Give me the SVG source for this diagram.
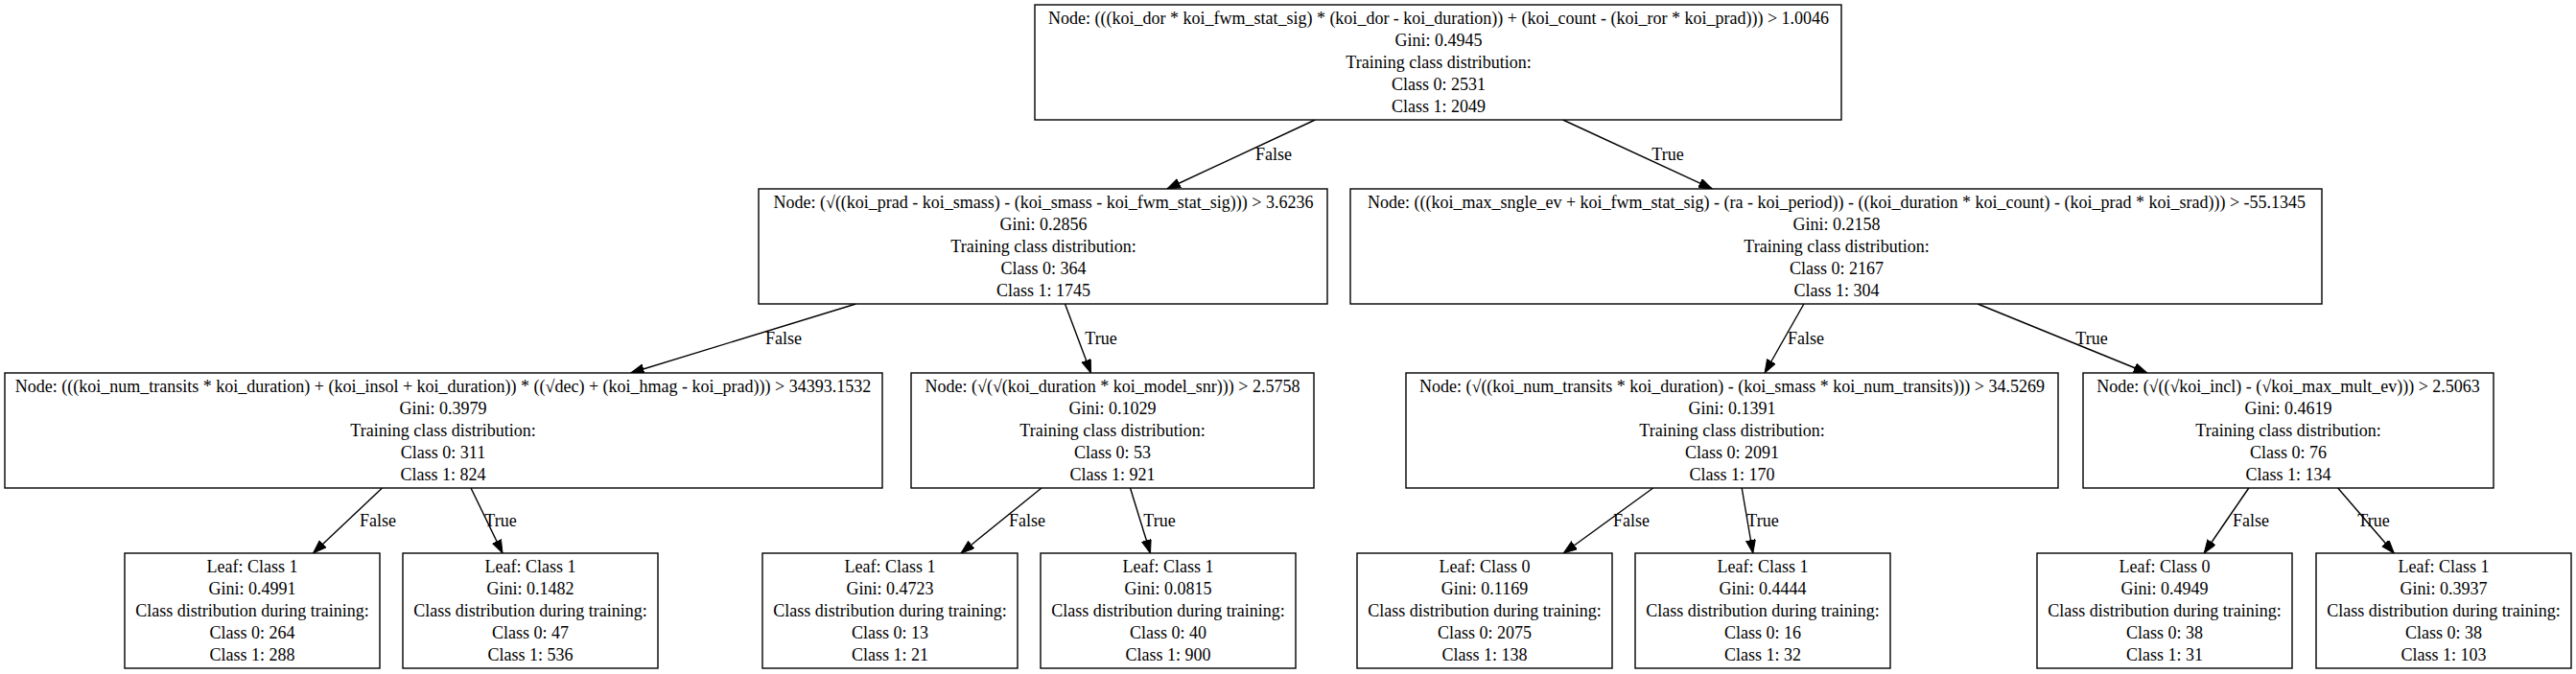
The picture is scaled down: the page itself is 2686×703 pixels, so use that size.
<svg xmlns="http://www.w3.org/2000/svg" width="2686" height="703" viewBox="0 0 2686 703">
<style>
.bg{fill:#ffffff}
.node rect{fill:#ffffff;stroke:#000000;stroke-width:1.4}
text{font-family:"Liberation Serif","Times New Roman",serif;font-size:18px;fill:#000000;text-anchor:middle}
.edges line{stroke:#000000;stroke-width:1.4;marker-end:url(#arr)}
</style>
<defs>
<marker id="arr" markerUnits="userSpaceOnUse" markerWidth="15" markerHeight="11" refX="14" refY="5" orient="auto">
<path d="M0,0 L14,5 L0,10 Z" fill="#000000" stroke="#000000" stroke-width="1"/>
</marker>
</defs>
<rect class="bg" x="0" y="0" width="2686" height="703"/>
<g id="edges" class="edges">
<line x1="1371.3" y1="125" x2="1216.8" y2="197"/>
<line x1="1629.7" y1="125" x2="1785.3" y2="197"/>
<line x1="892.4" y1="317" x2="657.6" y2="389"/>
<line x1="1110.5" y1="317" x2="1137.5" y2="389"/>
<line x1="1880.9" y1="317" x2="1840.1" y2="389"/>
<line x1="2062.2" y1="317" x2="2238.8" y2="389"/>
<line x1="398.5" y1="509" x2="326.5" y2="577"/>
<line x1="491.0" y1="509" x2="524.0" y2="577"/>
<line x1="1086.0" y1="509" x2="1002.0" y2="577"/>
<line x1="1178.5" y1="509" x2="1199.5" y2="577"/>
<line x1="1723.7" y1="509" x2="1630.3" y2="577"/>
<line x1="1816.2" y1="509" x2="1827.8" y2="577"/>
<line x1="2344.8" y1="509" x2="2298.2" y2="577"/>
<line x1="2437.7" y1="509" x2="2496.3" y2="577"/>
<text x="1328" y="167">False</text>
<text x="1739" y="167">True</text>
<text x="817" y="359">False</text>
<text x="1148" y="359">True</text>
<text x="1883" y="359">False</text>
<text x="2181" y="359">True</text>
<text x="394" y="549">False</text>
<text x="522" y="549">True</text>
<text x="1071" y="549">False</text>
<text x="1209" y="549">True</text>
<text x="1701" y="549">False</text>
<text x="1838" y="549">True</text>
<text x="2347" y="549">False</text>
<text x="2475" y="549">True</text>
</g>
<g id="root" class="node">
<rect x="1079" y="5" width="841" height="120"/>
<text x="1500" y="25">Node: (((koi_dor * koi_fwm_stat_sig) * (koi_dor - koi_duration)) + (koi_count - (koi_ror * koi_prad))) &gt; 1.0046</text>
<text x="1500" y="48">Gini: 0.4945</text>
<text x="1500" y="71">Training class distribution:</text>
<text x="1500" y="94">Class 0: 2531</text>
<text x="1500" y="117">Class 1: 2049</text>
</g>
<g id="n_l" class="node">
<rect x="791" y="197" width="593" height="120"/>
<text x="1088" y="217">Node: (√((koi_prad - koi_smass) - (koi_smass - koi_fwm_stat_sig))) &gt; 3.6236</text>
<text x="1088" y="240">Gini: 0.2856</text>
<text x="1088" y="263">Training class distribution:</text>
<text x="1088" y="286">Class 0: 364</text>
<text x="1088" y="309">Class 1: 1745</text>
</g>
<g id="n_r" class="node">
<rect x="1408" y="197" width="1013" height="120"/>
<text x="1915" y="217">Node: (((koi_max_sngle_ev + koi_fwm_stat_sig) - (ra - koi_period)) - ((koi_duration * koi_count) - (koi_prad * koi_srad))) &gt; -55.1345</text>
<text x="1915" y="240">Gini: 0.2158</text>
<text x="1915" y="263">Training class distribution:</text>
<text x="1915" y="286">Class 0: 2167</text>
<text x="1915" y="309">Class 1: 304</text>
</g>
<g id="n_ll" class="node">
<rect x="5" y="389" width="915" height="120"/>
<text x="462" y="409">Node: (((koi_num_transits * koi_duration) + (koi_insol + koi_duration)) * ((√dec) + (koi_hmag - koi_prad))) &gt; 34393.1532</text>
<text x="462" y="432">Gini: 0.3979</text>
<text x="462" y="455">Training class distribution:</text>
<text x="462" y="478">Class 0: 311</text>
<text x="462" y="501">Class 1: 824</text>
</g>
<g id="n_lr" class="node">
<rect x="950" y="389" width="420" height="120"/>
<text x="1160" y="409">Node: (√(√(koi_duration * koi_model_snr))) &gt; 2.5758</text>
<text x="1160" y="432">Gini: 0.1029</text>
<text x="1160" y="455">Training class distribution:</text>
<text x="1160" y="478">Class 0: 53</text>
<text x="1160" y="501">Class 1: 921</text>
</g>
<g id="n_rl" class="node">
<rect x="1466" y="389" width="680" height="120"/>
<text x="1806" y="409">Node: (√((koi_num_transits * koi_duration) - (koi_smass * koi_num_transits))) &gt; 34.5269</text>
<text x="1806" y="432">Gini: 0.1391</text>
<text x="1806" y="455">Training class distribution:</text>
<text x="1806" y="478">Class 0: 2091</text>
<text x="1806" y="501">Class 1: 170</text>
</g>
<g id="n_rr" class="node">
<rect x="2172" y="389" width="428" height="120"/>
<text x="2386" y="409">Node: (√((√koi_incl) - (√koi_max_mult_ev))) &gt; 2.5063</text>
<text x="2386" y="432">Gini: 0.4619</text>
<text x="2386" y="455">Training class distribution:</text>
<text x="2386" y="478">Class 0: 76</text>
<text x="2386" y="501">Class 1: 134</text>
</g>
<g id="leaf1" class="node">
<rect x="130" y="577" width="266" height="120"/>
<text x="263" y="597">Leaf: Class 1</text>
<text x="263" y="620">Gini: 0.4991</text>
<text x="263" y="643">Class distribution during training:</text>
<text x="263" y="666">Class 0: 264</text>
<text x="263" y="689">Class 1: 288</text>
</g>
<g id="leaf2" class="node">
<rect x="420" y="577" width="266" height="120"/>
<text x="553" y="597">Leaf: Class 1</text>
<text x="553" y="620">Gini: 0.1482</text>
<text x="553" y="643">Class distribution during training:</text>
<text x="553" y="666">Class 0: 47</text>
<text x="553" y="689">Class 1: 536</text>
</g>
<g id="leaf3" class="node">
<rect x="795" y="577" width="266" height="120"/>
<text x="928" y="597">Leaf: Class 1</text>
<text x="928" y="620">Gini: 0.4723</text>
<text x="928" y="643">Class distribution during training:</text>
<text x="928" y="666">Class 0: 13</text>
<text x="928" y="689">Class 1: 21</text>
</g>
<g id="leaf4" class="node">
<rect x="1085" y="577" width="266" height="120"/>
<text x="1218" y="597">Leaf: Class 1</text>
<text x="1218" y="620">Gini: 0.0815</text>
<text x="1218" y="643">Class distribution during training:</text>
<text x="1218" y="666">Class 0: 40</text>
<text x="1218" y="689">Class 1: 900</text>
</g>
<g id="leaf5" class="node">
<rect x="1415" y="577" width="266" height="120"/>
<text x="1548" y="597">Leaf: Class 0</text>
<text x="1548" y="620">Gini: 0.1169</text>
<text x="1548" y="643">Class distribution during training:</text>
<text x="1548" y="666">Class 0: 2075</text>
<text x="1548" y="689">Class 1: 138</text>
</g>
<g id="leaf6" class="node">
<rect x="1705" y="577" width="266" height="120"/>
<text x="1838" y="597">Leaf: Class 1</text>
<text x="1838" y="620">Gini: 0.4444</text>
<text x="1838" y="643">Class distribution during training:</text>
<text x="1838" y="666">Class 0: 16</text>
<text x="1838" y="689">Class 1: 32</text>
</g>
<g id="leaf7" class="node">
<rect x="2124" y="577" width="266" height="120"/>
<text x="2257" y="597">Leaf: Class 0</text>
<text x="2257" y="620">Gini: 0.4949</text>
<text x="2257" y="643">Class distribution during training:</text>
<text x="2257" y="666">Class 0: 38</text>
<text x="2257" y="689">Class 1: 31</text>
</g>
<g id="leaf8" class="node">
<rect x="2415" y="577" width="266" height="120"/>
<text x="2548" y="597">Leaf: Class 1</text>
<text x="2548" y="620">Gini: 0.3937</text>
<text x="2548" y="643">Class distribution during training:</text>
<text x="2548" y="666">Class 0: 38</text>
<text x="2548" y="689">Class 1: 103</text>
</g>
</svg>
